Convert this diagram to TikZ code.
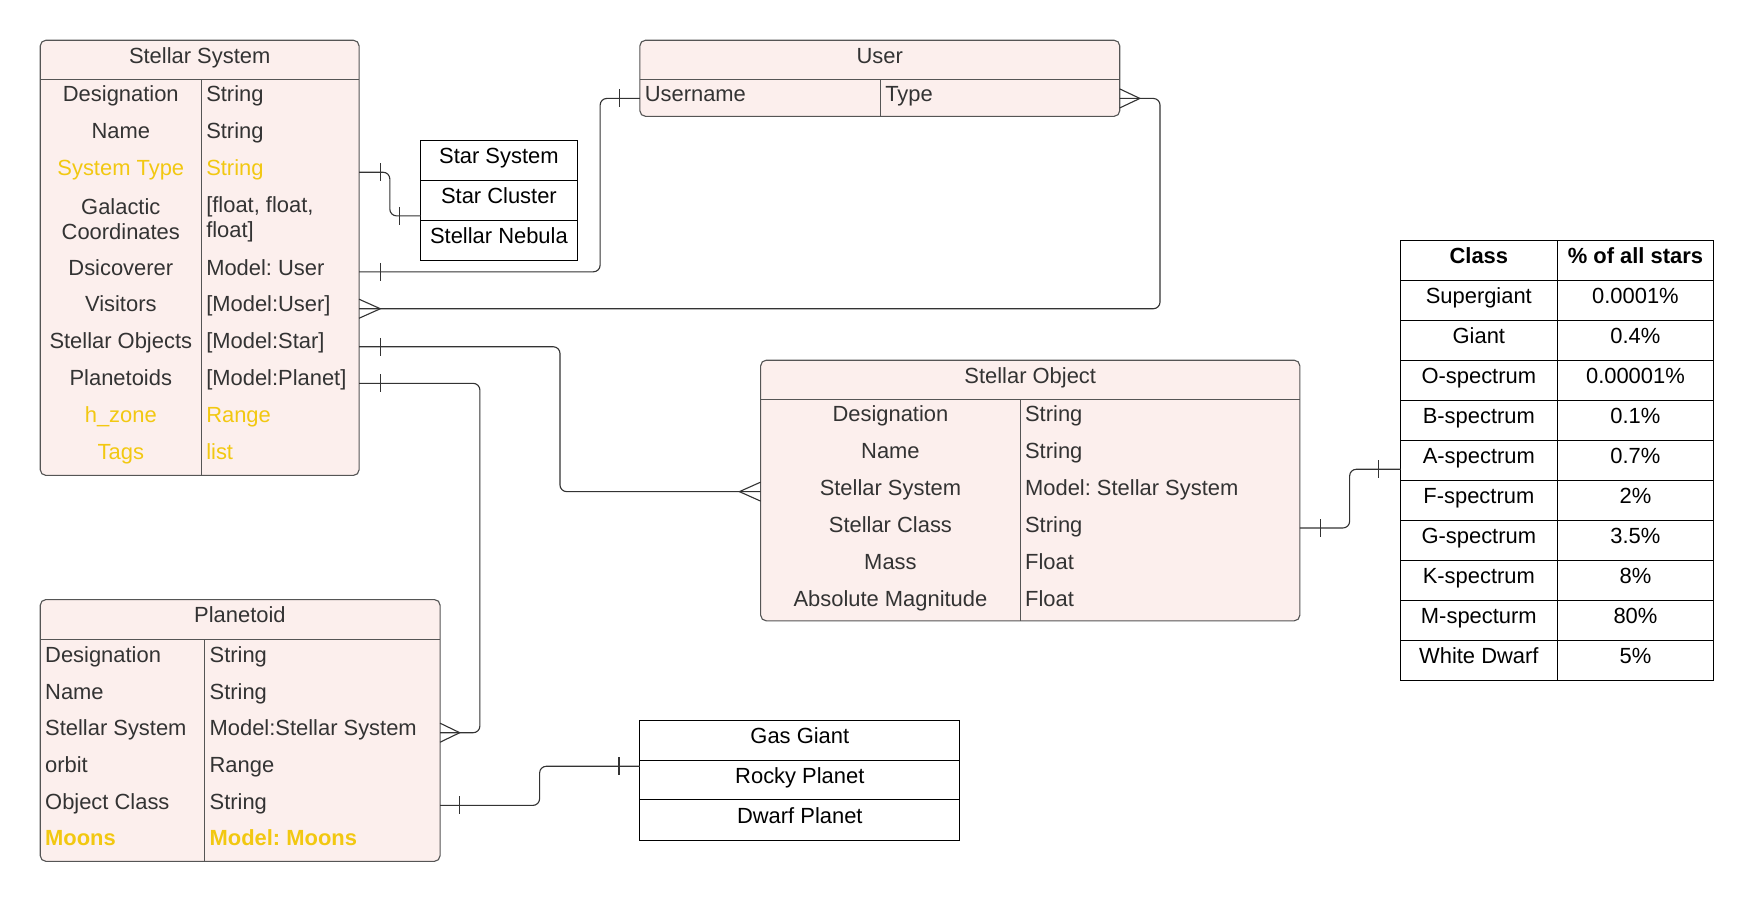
\documentclass[tikz,border=0pt]{standalone}
\usepackage{fontspec}
\setmainfont{Liberation Sans}
\frenchspacing
\definecolor{boxfill}{HTML}{FCEFED}
\definecolor{boxline}{HTML}{555555}
\definecolor{txt}{HTML}{333333}
\definecolor{ylw}{HTML}{F2C811}
\newcommand\ertick[2]{\draw[conn] (#1,#2-8) -- (#1,#2+8);}
\newcommand\ercrow[3]{\draw[conn,rounded corners=0pt] (#1,#3-8.5) -- (#2,#3) -- (#1,#3+8.5);}
\begin{document}
\begin{tikzpicture}[x=0.5pt,y=-0.5pt,
  font=\fontsize{9.8}{11.5}\selectfont,
  ent/.style={draw=boxline, fill=boxfill, rounded corners=2.5pt, line width=0.5pt, inner sep=0pt, outer sep=0pt, anchor=north west},
  plain/.style={draw=black, line width=0.5pt, inner sep=0pt, outer sep=0pt, anchor=north west},
  sep/.style={draw=boxline, line width=0.5pt},
  bsep/.style={draw=black, line width=0.5pt},
  lc/.style={text=txt, inner sep=0pt, anchor=mid, yshift=-0.3pt},
  lw/.style={text=txt, inner sep=0pt, anchor=mid west, yshift=-0.3pt},
  bc/.style={text=black, inner sep=0pt, anchor=mid, yshift=-0.3pt},
  yl/.style={text=ylw},
  conn/.style={draw=txt, line width=0.5pt, rounded corners=3pt}
]
\useasboundingbox (0,0) rectangle (1568,806);

% ---------------- Stellar System ----------------
\node[ent, minimum width={(321-36)*0.5pt}, minimum height={(425-36)*0.5pt}] (ss) at (36,36) {};
\draw[sep] (ss.west |- 0,71) -- (ss.east |- 0,71);
\draw[sep] (180,71) -- (ss.south -| 180,0);
\node[lc] (sst) at (178.5,51) {Stellar System};
\node[lc] (ss1) at (108,85) {Designation};      \node[lw] (ss1t) at (184,85) {String};
\node[lc] (ss2) at (108,118) {Name};            \node[lw] (ss2t) at (184,118) {String};
\node[lc,yl] (ss3) at (108,151) {System Type};  \node[lw,yl] (ss3t) at (184,151) {String};
\node[text=txt, inner sep=0pt, align=center] (ss4) at (108,196) {Galactic\\Coordinates};
\node[text=txt, inner sep=0pt, align=left, anchor=west] (ss4t) at (184,196) {[float, float,\\float]};
\node[lc] (ss5) at (108,240) {Dsicoverer};      \node[lw] (ss5t) at (184,240) {Model: User};
\node[lc] (ss6) at (108,273) {Visitors};        \node[lw] (ss6t) at (184,273) {[Model:User]};
\node[lc] (ss7) at (108,306) {Stellar Objects}; \node[lw] (ss7t) at (184,306) {[Model:Star]};
\node[lc] (ss8) at (108,339) {Planetoids};      \node[lw] (ss8t) at (184,339) {[Model:Planet]};
\node[lc,yl] (ss9) at (108,372) {h\_zone};      \node[lw,yl] (ss9t) at (184,372) {Range};
\node[lc,yl] (ss10) at (108,405) {Tags};        \node[lw,yl] (ss10t) at (184,405) {list};

% ---------------- User ----------------
\node[ent, minimum width={(1001-572)*0.5pt}, minimum height={(104-36)*0.5pt}] (us) at (572,36) {};
\draw[sep] (us.west |- 0,71) -- (us.east |- 0,71);
\draw[sep] (787,71) -- (us.south -| 787,0);
\node[lc] (ust) at (786.5,51) {User};
\node[lw] (us1) at (576,85) {Username};
\node[lw] (us1t) at (791,85) {Type};

% ---------------- System type enum ----------------
\node[plain, minimum width={(516-376)*0.5pt}, minimum height={(233-126)*0.5pt}] (en1) at (376,126) {};
\draw[bsep] (en1.west |- 0,161) -- (en1.east |- 0,161);
\draw[bsep] (en1.west |- 0,197) -- (en1.east |- 0,197);
\node[bc] (en1a) at (446,140) {Star System};
\node[bc] (en1b) at (446,176) {Star Cluster};
\node[bc] (en1c) at (446,211.5) {Stellar Nebula};

% ---------------- Stellar Object ----------------
\node[ent, minimum width={(1162-680)*0.5pt}, minimum height={(555-322)*0.5pt}] (so) at (680,322) {};
\draw[sep] (so.west |- 0,357) -- (so.east |- 0,357);
\draw[sep] (912,357) -- (so.south -| 912,0);
\node[lc] (sot) at (921,337) {Stellar Object};
\node[lc] (so1) at (796,371) {Designation};        \node[lw] (so1t) at (916,371) {String};
\node[lc] (so2) at (796,404) {Name};               \node[lw] (so2t) at (916,404) {String};
\node[lc] (so3) at (796,437) {Stellar System};     \node[lw] (so3t) at (916,437) {Model: Stellar System};
\node[lc] (so4) at (796,470) {Stellar Class};      \node[lw] (so4t) at (916,470) {String};
\node[lc] (so5) at (796,503) {Mass};               \node[lw] (so5t) at (916,503) {Float};
\node[lc] (so6) at (796,536) {Absolute Magnitude}; \node[lw] (so6t) at (916,536) {Float};

% ---------------- Planetoid ----------------
\node[ent, minimum width={(393.4-36)*0.5pt}, minimum height={(770-536)*0.5pt}] (pl) at (36,536) {};
\draw[sep] (pl.west |- 0,572) -- (pl.east |- 0,572);
\draw[sep] (183,572) -- (pl.south -| 183,0);
\node[lc] (plt) at (214.5,551) {Planetoid};
\node[lw] (pl1) at (40,586) {Designation};     \node[lw] (pl1t) at (187,586) {String};
\node[lw] (pl2) at (40,619) {Name};            \node[lw] (pl2t) at (187,619) {String};
\node[lw] (pl3) at (40,652) {Stellar System};  \node[lw] (pl3t) at (187,652) {Model:Stellar System};
\node[lw] (pl4) at (40,685) {orbit};           \node[lw] (pl4t) at (187,685) {Range};
\node[lw] (pl5) at (40,718) {Object Class};    \node[lw] (pl5t) at (187,718) {String};
\node[lw,yl,font=\fontsize{9.8}{11.5}\selectfont\bfseries] (pl6) at (40,750) {Moons};
\node[lw,yl,font=\fontsize{9.8}{11.5}\selectfont\bfseries] (pl6t) at (187,750) {Model: Moons};

% ---------------- Planet type enum ----------------
\node[plain, minimum width={(858-572)*0.5pt}, minimum height={(751-644)*0.5pt}] (en2) at (572,644) {};
\draw[bsep] (en2.west |- 0,680) -- (en2.east |- 0,680);
\draw[bsep] (en2.west |- 0,715) -- (en2.east |- 0,715);
\node[bc] (en2a) at (715,658.5) {Gas Giant};
\node[bc] (en2b) at (715,694.5) {Rocky Planet};
\node[bc] (en2c) at (715,730.5) {Dwarf Planet};

% ---------------- Star class table ----------------
\node[plain, minimum width={(1532-1252)*0.5pt}, minimum height={(608-215.2)*0.5pt}] (tb) at (1252,215.2) {};
\draw[bsep] (1392,215.2) -- (tb.south -| 1392,0);
\foreach \k in {1,...,10} {\draw[bsep] (tb.west |- 0,215.2+35.7*\k) -- (tb.east |- 0,215.2+35.7*\k);}
\node[bc,font=\fontsize{9.8}{11.5}\selectfont\bfseries] (th1) at (1322,230) {Class};
\node[bc,font=\fontsize{9.8}{11.5}\selectfont\bfseries] (th2) at (1462,230) {\% of all stars};
\foreach \a/\b [count=\i from 1] in {Supergiant/0.0001\%, Giant/0.4\%, O-spectrum/0.00001\%, B-spectrum/0.1\%, A-spectrum/0.7\%, F-spectrum/2\%, G-spectrum/3.5\%, K-spectrum/8\%, M-specturm/80\%, White Dwarf/5\%} {
  \node[bc] (tr\i a) at (1322,230+35.7*\i) {\a};
  \node[bc] (tr\i b) at (1462,230+35.7*\i) {\b};
}

% ---------------- Connectors ----------------
% System Type -> enum
\draw[conn] (ss.east |- 0,154) -- (348.5,154) -- (348.5,193) -- (en1.west |- 0,193);
\ertick{340}{154} \ertick{357}{193}
% Discoverer -> User
\draw[conn] (ss.east |- 0,243) -- (536.5,243) -- (536.5,88) -- (us.west |- 0,88);
\ertick{340}{243} \ertick{553.5}{88}
% Visitors -> User (many to many)
\draw[conn] (ss.east |- 0,276) -- (1037,276) -- (1037,88) -- (us.east |- 0,88);
\ercrow{321}{340}{276} \ercrow{1001}{1019}{88}
% Stellar Objects -> Stellar Object
\draw[conn] (ss.east |- 0,310) -- (500.6,310) -- (500.6,439.5) -- (so.west |- 0,439.5);
\ertick{340}{310} \ercrow{680}{661}{439.5}
% Planetoids -> Planetoid
\draw[conn] (ss.east |- 0,342.7) -- (429,342.7) -- (429,655) -- (pl.east |- 0,655);
\ertick{340}{342.7} \ercrow{393.4}{411}{655}
% Object Class -> planet enum
\draw[conn] (pl.east |- 0,720) -- (482.4,720) -- (482.4,685) -- (en2.west |- 0,685);
\ertick{411}{720} \ertick{553.4}{685}
% Stellar Class -> table
\draw[conn] (so.east |- 0,472) -- (1206.5,472) -- (1206.5,419.5) -- (tb.west |- 0,419.5);
\ertick{1180.6}{472} \ertick{1232}{419.5}
\end{tikzpicture}
\end{document}
